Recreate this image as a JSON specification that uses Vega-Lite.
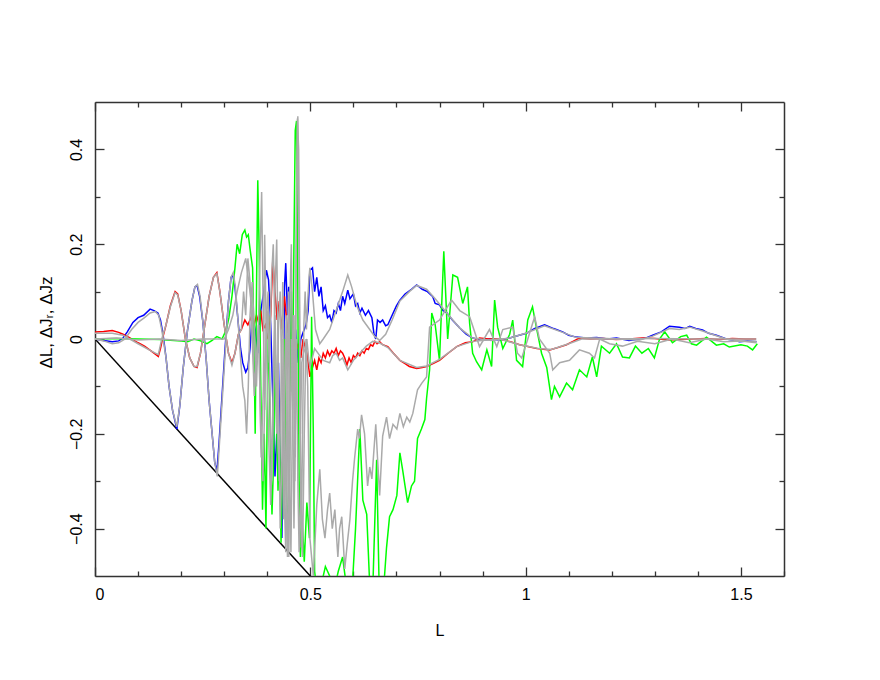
{
"$schema":"https://vega.github.io/schema/vega-lite/v6.json",
"width":689,"height":474,
"autosize":{"type":"none"},
"padding":{"left":95,"top":102,"right":96,"bottom":104},
"background":"white",
"config":{"view":{"stroke":null},"axis":{"labelFont":"Liberation Sans","titleFont":"Liberation Sans","labelFontSize":16,"titleFontSize":16,"labelColor":"black","titleColor":"black","titleFontWeight":"normal","tickColor":"#333","domainColor":"#333","domainWidth":1.5,"tickWidth":1.3,"grid":false}},
"datasets":{"d":[
{"s":"diag","x":0,"y":0},{"s":"diag","x":0.5,"y":-0.5},
{"s":"L","x":0,"y":0},{"s":"L","x":0.02,"y":-0.003},{"s":"L","x":0.04,"y":-0.006},{"s":"L","x":0.055,"y":-0.004},{"s":"L","x":0.065,"y":0.002},{"s":"L","x":0.075,"y":0.015},{"s":"L","x":0.088,"y":0.035},{"s":"L","x":0.1,"y":0.045},{"s":"L","x":0.113,"y":0.05},{"s":"L","x":0.128,"y":0.063},{"s":"L","x":0.137,"y":0.06},{"s":"L","x":0.146,"y":0.055},{"s":"L","x":0.152,"y":0.04},{"s":"L","x":0.158,"y":0.01},{"s":"L","x":0.165,"y":-0.04},{"s":"L","x":0.172,"y":-0.1},{"s":"L","x":0.18,"y":-0.15},{"s":"L","x":0.19,"y":-0.19},{"s":"L","x":0.197,"y":-0.14},{"s":"L","x":0.205,"y":-0.06},{"s":"L","x":0.215,"y":0.02},{"s":"L","x":0.225,"y":0.08},{"s":"L","x":0.232,"y":0.11},{"s":"L","x":0.237,"y":0.113},{"s":"L","x":0.243,"y":0.09},{"s":"L","x":0.25,"y":0.04},{"s":"L","x":0.258,"y":-0.04},{"s":"L","x":0.265,"y":-0.13},{"s":"L","x":0.272,"y":-0.2},{"s":"L","x":0.278,"y":-0.26},{"s":"L","x":0.283,"y":-0.28},{"s":"L","x":0.288,"y":-0.22},{"s":"L","x":0.295,"y":-0.12},{"s":"L","x":0.302,"y":-0.02},{"s":"L","x":0.31,"y":0.08},{"s":"L","x":0.316,"y":0.13},{"s":"L","x":0.32,"y":0.135},{"s":"L","x":0.325,"y":0.11},{"s":"L","x":0.332,"y":0.04},{"s":"L","x":0.338,"y":-0.02},{"s":"L","x":0.343,"y":-0.05},{"s":"L","x":0.35,"y":-0.07},{"s":"L","x":0.355,"y":-0.06},{"s":"L","x":0.36,"y":-0.02},{"s":"L","x":0.365,"y":0.05},{"s":"L","x":0.372,"y":0.02},{"s":"L","x":0.378,"y":-0.03},{"s":"L","x":0.385,"y":0.06},{"s":"L","x":0.392,"y":0.1},{"s":"L","x":0.398,"y":0.145},{"s":"L","x":0.403,"y":0.125},{"s":"L","x":0.408,"y":0.03},{"s":"L","x":0.413,"y":-0.13},{"s":"L","x":0.418,"y":-0.29},{"s":"L","x":0.422,"y":-0.2},{"s":"L","x":0.426,"y":-0.05},{"s":"L","x":0.43,"y":-0.25},{"s":"L","x":0.434,"y":-0.42},{"s":"L","x":0.437,"y":-0.2},{"s":"L","x":0.44,"y":0.11},{"s":"L","x":0.443,"y":0.16},{"s":"L","x":0.447,"y":0.05},{"s":"L","x":0.45,"y":0.11},{"s":"L","x":0.454,"y":-0.02},{"s":"L","x":0.458,"y":0.03},{"s":"L","x":0.462,"y":-0.1},{"s":"L","x":0.466,"y":0.02},{"s":"L","x":0.472,"y":-0.05},{"s":"L","x":0.478,"y":0.0},{"s":"L","x":0.483,"y":0.013},{"s":"L","x":0.49,"y":0.03},{"s":"L","x":0.495,"y":0.06},{"s":"L","x":0.499,"y":0.145},{"s":"L","x":0.505,"y":0.15},{"s":"L","x":0.51,"y":0.1},{"s":"L","x":0.515,"y":0.13},{"s":"L","x":0.52,"y":0.09},{"s":"L","x":0.525,"y":0.11},{"s":"L","x":0.53,"y":0.06},{"s":"L","x":0.535,"y":0.07},{"s":"L","x":0.54,"y":0.045},{"s":"L","x":0.545,"y":0.05},{"s":"L","x":0.55,"y":0.035},{"s":"L","x":0.555,"y":0.06},{"s":"L","x":0.56,"y":0.055},{"s":"L","x":0.565,"y":0.075},{"s":"L","x":0.57,"y":0.06},{"s":"L","x":0.575,"y":0.09},{"s":"L","x":0.58,"y":0.075},{"s":"L","x":0.587,"y":0.103},{"s":"L","x":0.592,"y":0.085},{"s":"L","x":0.6,"y":0.095},{"s":"L","x":0.605,"y":0.07},{"s":"L","x":0.61,"y":0.075},{"s":"L","x":0.615,"y":0.055},{"s":"L","x":0.62,"y":0.065},{"s":"L","x":0.628,"y":0.05},{"s":"L","x":0.635,"y":0.06},{"s":"L","x":0.643,"y":0.045},{"s":"L","x":0.648,"y":0.01},{"s":"L","x":0.652,"y":0.0},{"s":"L","x":0.656,"y":0.04},{"s":"L","x":0.662,"y":0.035},{"s":"L","x":0.668,"y":0.04},{"s":"L","x":0.675,"y":0.028},{"s":"L","x":0.68,"y":0.03},{"s":"L","x":0.69,"y":0.05},{"s":"L","x":0.7,"y":0.07},{"s":"L","x":0.708,"y":0.082},{"s":"L","x":0.72,"y":0.095},{"s":"L","x":0.735,"y":0.105},{"s":"L","x":0.747,"y":0.114},{"s":"L","x":0.76,"y":0.105},{"s":"L","x":0.772,"y":0.1},{"s":"L","x":0.784,"y":0.09},{"s":"L","x":0.79,"y":0.075},{"s":"L","x":0.8,"y":0.072},{"s":"L","x":0.808,"y":0.06},{"s":"L","x":0.817,"y":0.055},{"s":"L","x":0.83,"y":0.04},{"s":"L","x":0.847,"y":0.023},{"s":"L","x":0.862,"y":0.01},{"s":"L","x":0.877,"y":0.002},{"s":"L","x":0.9,"y":-0.003},{"s":"L","x":0.916,"y":0.0},{"s":"L","x":0.94,"y":-0.002},{"s":"L","x":0.963,"y":0.002},{"s":"L","x":0.985,"y":0.008},{"s":"L","x":1.002,"y":0.012},{"s":"L","x":1.02,"y":0.022},{"s":"L","x":1.044,"y":0.03},{"s":"L","x":1.065,"y":0.022},{"s":"L","x":1.086,"y":0.015},{"s":"L","x":1.1,"y":0.008},{"s":"L","x":1.118,"y":0.004},{"s":"L","x":1.14,"y":0.002},{"s":"L","x":1.165,"y":0.003},{"s":"L","x":1.19,"y":0.0},{"s":"L","x":1.211,"y":0.002},{"s":"L","x":1.24,"y":-0.003},{"s":"L","x":1.265,"y":0.0},{"s":"L","x":1.28,"y":0.002},{"s":"L","x":1.295,"y":0.008},{"s":"L","x":1.315,"y":0.015},{"s":"L","x":1.334,"y":0.027},{"s":"L","x":1.357,"y":0.025},{"s":"L","x":1.37,"y":0.022},{"s":"L","x":1.381,"y":0.027},{"s":"L","x":1.395,"y":0.022},{"s":"L","x":1.411,"y":0.019},{"s":"L","x":1.425,"y":0.012},{"s":"L","x":1.443,"y":0.008},{"s":"L","x":1.466,"y":0.0},{"s":"L","x":1.48,"y":-0.002},{"s":"L","x":1.497,"y":-0.006},{"s":"L","x":1.515,"y":-0.004},{"s":"L","x":1.536,"y":-0.006},
{"s":"Jr","x":0,"y":0.015},{"s":"Jr","x":0.02,"y":0.016},{"s":"Jr","x":0.04,"y":0.018},{"s":"Jr","x":0.055,"y":0.014},{"s":"Jr","x":0.065,"y":0.01},{"s":"Jr","x":0.08,"y":0.003},{"s":"Jr","x":0.1,"y":-0.008},{"s":"Jr","x":0.115,"y":-0.015},{"s":"Jr","x":0.13,"y":-0.025},{"s":"Jr","x":0.14,"y":-0.032},{"s":"Jr","x":0.147,"y":-0.037},{"s":"Jr","x":0.152,"y":-0.02},{"s":"Jr","x":0.158,"y":0.005},{"s":"Jr","x":0.165,"y":0.03},{"s":"Jr","x":0.175,"y":0.07},{"s":"Jr","x":0.186,"y":0.1},{"s":"Jr","x":0.192,"y":0.095},{"s":"Jr","x":0.2,"y":0.06},{"s":"Jr","x":0.21,"y":0.0},{"s":"Jr","x":0.22,"y":-0.04},{"s":"Jr","x":0.23,"y":-0.058},{"s":"Jr","x":0.237,"y":-0.06},{"s":"Jr","x":0.245,"y":-0.03},{"s":"Jr","x":0.255,"y":0.03},{"s":"Jr","x":0.265,"y":0.09},{"s":"Jr","x":0.275,"y":0.13},{"s":"Jr","x":0.283,"y":0.14},{"s":"Jr","x":0.29,"y":0.1},{"s":"Jr","x":0.3,"y":0.03},{"s":"Jr","x":0.31,"y":-0.03},{"s":"Jr","x":0.318,"y":-0.05},{"s":"Jr","x":0.325,"y":-0.03},{"s":"Jr","x":0.333,"y":0.01},{"s":"Jr","x":0.34,"y":0.02},{"s":"Jr","x":0.348,"y":0.04},{"s":"Jr","x":0.355,"y":0.03},{"s":"Jr","x":0.362,"y":0.045},{"s":"Jr","x":0.368,"y":0.025},{"s":"Jr","x":0.375,"y":0.05},{"s":"Jr","x":0.38,"y":0.035},{"s":"Jr","x":0.385,"y":0.06},{"s":"Jr","x":0.39,"y":0.02},{"s":"Jr","x":0.396,"y":0.03},{"s":"Jr","x":0.402,"y":0.0},{"s":"Jr","x":0.408,"y":0.05},{"s":"Jr","x":0.413,"y":0.17},{"s":"Jr","x":0.418,"y":0.1},{"s":"Jr","x":0.423,"y":0.04},{"s":"Jr","x":0.428,"y":0.08},{"s":"Jr","x":0.433,"y":0.02},{"s":"Jr","x":0.44,"y":0.09},{"s":"Jr","x":0.446,"y":0.03},{"s":"Jr","x":0.452,"y":-0.02},{"s":"Jr","x":0.458,"y":0.01},{"s":"Jr","x":0.465,"y":-0.03},{"s":"Jr","x":0.472,"y":-0.01},{"s":"Jr","x":0.478,"y":-0.04},{"s":"Jr","x":0.483,"y":0.0},{"s":"Jr","x":0.492,"y":-0.03},{"s":"Jr","x":0.499,"y":-0.08},{"s":"Jr","x":0.505,"y":-0.06},{"s":"Jr","x":0.51,"y":-0.045},{"s":"Jr","x":0.515,"y":-0.065},{"s":"Jr","x":0.52,"y":-0.04},{"s":"Jr","x":0.525,"y":-0.05},{"s":"Jr","x":0.53,"y":-0.03},{"s":"Jr","x":0.535,"y":-0.04},{"s":"Jr","x":0.54,"y":-0.025},{"s":"Jr","x":0.545,"y":-0.035},{"s":"Jr","x":0.55,"y":-0.025},{"s":"Jr","x":0.555,"y":-0.03},{"s":"Jr","x":0.56,"y":-0.02},{"s":"Jr","x":0.565,"y":-0.035},{"s":"Jr","x":0.57,"y":-0.025},{"s":"Jr","x":0.575,"y":-0.03},{"s":"Jr","x":0.58,"y":-0.04},{"s":"Jr","x":0.585,"y":-0.055},{"s":"Jr","x":0.59,"y":-0.04},{"s":"Jr","x":0.595,"y":-0.05},{"s":"Jr","x":0.6,"y":-0.035},{"s":"Jr","x":0.605,"y":-0.04},{"s":"Jr","x":0.61,"y":-0.03},{"s":"Jr","x":0.615,"y":-0.035},{"s":"Jr","x":0.62,"y":-0.025},{"s":"Jr","x":0.625,"y":-0.03},{"s":"Jr","x":0.63,"y":-0.02},{"s":"Jr","x":0.635,"y":-0.022},{"s":"Jr","x":0.64,"y":-0.012},{"s":"Jr","x":0.645,"y":-0.015},{"s":"Jr","x":0.65,"y":-0.005},{"s":"Jr","x":0.655,"y":-0.01},{"s":"Jr","x":0.661,"y":-0.006},{"s":"Jr","x":0.668,"y":-0.012},{"s":"Jr","x":0.68,"y":-0.016},{"s":"Jr","x":0.693,"y":-0.03},{"s":"Jr","x":0.708,"y":-0.045},{"s":"Jr","x":0.72,"y":-0.052},{"s":"Jr","x":0.73,"y":-0.058},{"s":"Jr","x":0.747,"y":-0.062},{"s":"Jr","x":0.76,"y":-0.06},{"s":"Jr","x":0.77,"y":-0.058},{"s":"Jr","x":0.785,"y":-0.052},{"s":"Jr","x":0.8,"y":-0.045},{"s":"Jr","x":0.82,"y":-0.03},{"s":"Jr","x":0.84,"y":-0.016},{"s":"Jr","x":0.86,"y":-0.008},{"s":"Jr","x":0.877,"y":-0.006},{"s":"Jr","x":0.893,"y":0.002},{"s":"Jr","x":0.915,"y":0.0},{"s":"Jr","x":0.94,"y":0.0},{"s":"Jr","x":0.965,"y":-0.006},{"s":"Jr","x":0.986,"y":-0.012},{"s":"Jr","x":1.005,"y":-0.016},{"s":"Jr","x":1.026,"y":-0.02},{"s":"Jr","x":1.056,"y":-0.023},{"s":"Jr","x":1.075,"y":-0.018},{"s":"Jr","x":1.095,"y":-0.012},{"s":"Jr","x":1.11,"y":-0.005},{"s":"Jr","x":1.125,"y":0.002},{"s":"Jr","x":1.15,"y":0.0},{"s":"Jr","x":1.18,"y":0.001},{"s":"Jr","x":1.21,"y":-0.001},{"s":"Jr","x":1.24,"y":0.0},{"s":"Jr","x":1.27,"y":0.002},{"s":"Jr","x":1.3,"y":0.001},{"s":"Jr","x":1.33,"y":-0.002},{"s":"Jr","x":1.36,"y":-0.001},{"s":"Jr","x":1.39,"y":0.0},{"s":"Jr","x":1.42,"y":0.001},{"s":"Jr","x":1.45,"y":-0.001},{"s":"Jr","x":1.48,"y":0.001},{"s":"Jr","x":1.51,"y":0.0},{"s":"Jr","x":1.535,"y":0.0},
{"s":"Jz","x":0,"y":0},{"s":"Jz","x":0.05,"y":0.001},{"s":"Jz","x":0.1,"y":0.0},{"s":"Jz","x":0.15,"y":-0.001},{"s":"Jz","x":0.2,"y":-0.004},{"s":"Jz","x":0.215,"y":-0.006},{"s":"Jz","x":0.23,"y":0.0},{"s":"Jz","x":0.245,"y":-0.004},{"s":"Jz","x":0.26,"y":-0.01},{"s":"Jz","x":0.272,"y":-0.003},{"s":"Jz","x":0.283,"y":0.005},{"s":"Jz","x":0.295,"y":0.0},{"s":"Jz","x":0.305,"y":0.02},{"s":"Jz","x":0.311,"y":0.045},{"s":"Jz","x":0.318,"y":0.09},{"s":"Jz","x":0.325,"y":0.15},{"s":"Jz","x":0.33,"y":0.2},{"s":"Jz","x":0.336,"y":0.18},{"s":"Jz","x":0.342,"y":0.22},{"s":"Jz","x":0.348,"y":0.23},{"s":"Jz","x":0.352,"y":0.215},{"s":"Jz","x":0.356,"y":0.22},{"s":"Jz","x":0.36,"y":0.19},{"s":"Jz","x":0.366,"y":0.15},{"s":"Jz","x":0.369,"y":0.0},{"s":"Jz","x":0.372,"y":-0.2},{"s":"Jz","x":0.375,"y":0.1},{"s":"Jz","x":0.378,"y":0.335},{"s":"Jz","x":0.381,"y":0.2},{"s":"Jz","x":0.385,"y":-0.1},{"s":"Jz","x":0.389,"y":-0.36},{"s":"Jz","x":0.393,"y":-0.2},{"s":"Jz","x":0.397,"y":-0.4},{"s":"Jz","x":0.4,"y":-0.15},{"s":"Jz","x":0.403,"y":0.05},{"s":"Jz","x":0.407,"y":-0.2},{"s":"Jz","x":0.411,"y":-0.37},{"s":"Jz","x":0.415,"y":-0.25},{"s":"Jz","x":0.418,"y":0.0},{"s":"Jz","x":0.421,"y":-0.15},{"s":"Jz","x":0.425,"y":-0.32},{"s":"Jz","x":0.429,"y":-0.2},{"s":"Jz","x":0.432,"y":-0.43},{"s":"Jz","x":0.436,"y":-0.25},{"s":"Jz","x":0.44,"y":0.0},{"s":"Jz","x":0.444,"y":-0.3},{"s":"Jz","x":0.448,"y":-0.45},{"s":"Jz","x":0.452,"y":-0.2},{"s":"Jz","x":0.456,"y":0.1},{"s":"Jz","x":0.459,"y":-0.1},{"s":"Jz","x":0.462,"y":0.2},{"s":"Jz","x":0.465,"y":0.44},{"s":"Jz","x":0.468,"y":0.46},{"s":"Jz","x":0.471,"y":0.1},{"s":"Jz","x":0.474,"y":-0.3},{"s":"Jz","x":0.477,"y":-0.46},{"s":"Jz","x":0.481,"y":-0.38},{"s":"Jz","x":0.486,"y":-0.47},{"s":"Jz","x":0.492,"y":-0.345},{"s":"Jz","x":0.498,"y":-0.42},{"s":"Jz","x":0.503,"y":0.047},{"s":"Jz","x":0.507,"y":-0.2},{"s":"Jz","x":0.51,"y":-0.49},{"s":"Jz","x":0.515,"y":-0.53},{"s":"Jz","x":0.525,"y":-0.52},{"s":"Jz","x":0.535,"y":-0.48},{"s":"Jz","x":0.545,"y":-0.5},{"s":"Jz","x":0.555,"y":-0.53},{"s":"Jz","x":0.565,"y":-0.49},{"s":"Jz","x":0.575,"y":-0.46},{"s":"Jz","x":0.585,"y":-0.53},{"s":"Jz","x":0.597,"y":-0.53},{"s":"Jz","x":0.605,"y":-0.4},{"s":"Jz","x":0.615,"y":-0.19},{"s":"Jz","x":0.622,"y":-0.34},{"s":"Jz","x":0.631,"y":-0.37},{"s":"Jz","x":0.638,"y":-0.52},{"s":"Jz","x":0.645,"y":-0.53},{"s":"Jz","x":0.654,"y":-0.255},{"s":"Jz","x":0.66,"y":-0.53},{"s":"Jz","x":0.67,"y":-0.53},{"s":"Jz","x":0.677,"y":-0.44},{"s":"Jz","x":0.684,"y":-0.375},{"s":"Jz","x":0.692,"y":-0.36},{"s":"Jz","x":0.701,"y":-0.33},{"s":"Jz","x":0.708,"y":-0.24},{"s":"Jz","x":0.715,"y":-0.28},{"s":"Jz","x":0.72,"y":-0.31},{"s":"Jz","x":0.726,"y":-0.345},{"s":"Jz","x":0.735,"y":-0.31},{"s":"Jz","x":0.742,"y":-0.3},{"s":"Jz","x":0.749,"y":-0.21},{"s":"Jz","x":0.758,"y":-0.19},{"s":"Jz","x":0.766,"y":-0.17},{"s":"Jz","x":0.77,"y":-0.125},{"s":"Jz","x":0.777,"y":-0.065},{"s":"Jz","x":0.782,"y":0.055},{"s":"Jz","x":0.79,"y":0.03},{"s":"Jz","x":0.8,"y":-0.045},{"s":"Jz","x":0.81,"y":0.185},{"s":"Jz","x":0.819,"y":0.0},{"s":"Jz","x":0.831,"y":0.135},{"s":"Jz","x":0.842,"y":0.13},{"s":"Jz","x":0.854,"y":0.075},{"s":"Jz","x":0.865,"y":0.11},{"s":"Jz","x":0.87,"y":0.033},{"s":"Jz","x":0.877,"y":-0.03},{"s":"Jz","x":0.886,"y":-0.048},{"s":"Jz","x":0.898,"y":-0.065},{"s":"Jz","x":0.91,"y":-0.023},{"s":"Jz","x":0.921,"y":-0.058},{"s":"Jz","x":0.928,"y":0.082},{"s":"Jz","x":0.935,"y":0.025},{"s":"Jz","x":0.947,"y":-0.02},{"s":"Jz","x":0.963,"y":0.01},{"s":"Jz","x":0.97,"y":0.04},{"s":"Jz","x":0.979,"y":-0.045},{"s":"Jz","x":0.993,"y":-0.058},{"s":"Jz","x":1.005,"y":0.04},{"s":"Jz","x":1.016,"y":0.068},{"s":"Jz","x":1.026,"y":0.02},{"s":"Jz","x":1.037,"y":-0.03},{"s":"Jz","x":1.049,"y":-0.06},{"s":"Jz","x":1.06,"y":-0.128},{"s":"Jz","x":1.067,"y":-0.1},{"s":"Jz","x":1.079,"y":-0.122},{"s":"Jz","x":1.095,"y":-0.093},{"s":"Jz","x":1.109,"y":-0.107},{"s":"Jz","x":1.125,"y":-0.065},{"s":"Jz","x":1.142,"y":-0.08},{"s":"Jz","x":1.155,"y":-0.038},{"s":"Jz","x":1.165,"y":-0.08},{"s":"Jz","x":1.176,"y":-0.015},{"s":"Jz","x":1.195,"y":-0.03},{"s":"Jz","x":1.211,"y":-0.01},{"s":"Jz","x":1.225,"y":-0.038},{"s":"Jz","x":1.241,"y":-0.04},{"s":"Jz","x":1.255,"y":-0.015},{"s":"Jz","x":1.27,"y":-0.03},{"s":"Jz","x":1.285,"y":-0.02},{"s":"Jz","x":1.299,"y":-0.04},{"s":"Jz","x":1.311,"y":0.0},{"s":"Jz","x":1.323,"y":0.015},{"s":"Jz","x":1.341,"y":-0.008},{"s":"Jz","x":1.36,"y":0.005},{"s":"Jz","x":1.374,"y":0.008},{"s":"Jz","x":1.385,"y":-0.01},{"s":"Jz","x":1.397,"y":-0.013},{"s":"Jz","x":1.42,"y":0.004},{"s":"Jz","x":1.443,"y":-0.013},{"s":"Jz","x":1.46,"y":-0.01},{"s":"Jz","x":1.473,"y":-0.017},{"s":"Jz","x":1.5,"y":-0.012},{"s":"Jz","x":1.515,"y":-0.015},{"s":"Jz","x":1.527,"y":-0.023},{"s":"Jz","x":1.538,"y":-0.01},
{"s":"gL","x":0,"y":0},{"s":"gL","x":0.02,"y":-0.004},{"s":"gL","x":0.04,"y":-0.01},{"s":"gL","x":0.055,"y":-0.008},{"s":"gL","x":0.07,"y":0.0},{"s":"gL","x":0.085,"y":0.02},{"s":"gL","x":0.1,"y":0.035},{"s":"gL","x":0.115,"y":0.045},{"s":"gL","x":0.128,"y":0.055},{"s":"gL","x":0.14,"y":0.058},{"s":"gL","x":0.148,"y":0.05},{"s":"gL","x":0.155,"y":0.02},{"s":"gL","x":0.165,"y":-0.04},{"s":"gL","x":0.172,"y":-0.1},{"s":"gL","x":0.18,"y":-0.15},{"s":"gL","x":0.19,"y":-0.185},{"s":"gL","x":0.197,"y":-0.14},{"s":"gL","x":0.205,"y":-0.06},{"s":"gL","x":0.215,"y":0.02},{"s":"gL","x":0.225,"y":0.08},{"s":"gL","x":0.232,"y":0.11},{"s":"gL","x":0.238,"y":0.115},{"s":"gL","x":0.244,"y":0.09},{"s":"gL","x":0.25,"y":0.04},{"s":"gL","x":0.258,"y":-0.04},{"s":"gL","x":0.265,"y":-0.13},{"s":"gL","x":0.272,"y":-0.2},{"s":"gL","x":0.278,"y":-0.26},{"s":"gL","x":0.284,"y":-0.29},{"s":"gL","x":0.289,"y":-0.22},{"s":"gL","x":0.296,"y":-0.12},{"s":"gL","x":0.303,"y":-0.02},{"s":"gL","x":0.31,"y":0.08},{"s":"gL","x":0.316,"y":0.13},{"s":"gL","x":0.321,"y":0.14},{"s":"gL","x":0.326,"y":0.11},{"s":"gL","x":0.332,"y":0.04},{"s":"gL","x":0.338,"y":-0.04},{"s":"gL","x":0.343,"y":-0.1},{"s":"gL","x":0.348,"y":-0.13},{"s":"gL","x":0.352,"y":-0.2},{"s":"gL","x":0.356,"y":-0.1},{"s":"gL","x":0.36,"y":0.05},{"s":"gL","x":0.365,"y":0.12},{"s":"gL","x":0.37,"y":0.02},{"s":"gL","x":0.375,"y":-0.1},{"s":"gL","x":0.38,"y":0.05},{"s":"gL","x":0.384,"y":0.2},{"s":"gL","x":0.387,"y":0.31},{"s":"gL","x":0.39,"y":0.1},{"s":"gL","x":0.394,"y":-0.15},{"s":"gL","x":0.398,"y":0.05},{"s":"gL","x":0.402,"y":0.1},{"s":"gL","x":0.406,"y":-0.1},{"s":"gL","x":0.41,"y":-0.3},{"s":"gL","x":0.414,"y":-0.1},{"s":"gL","x":0.418,"y":0.1},{"s":"gL","x":0.422,"y":0.21},{"s":"gL","x":0.426,"y":-0.1},{"s":"gL","x":0.43,"y":-0.4},{"s":"gL","x":0.434,"y":-0.25},{"s":"gL","x":0.437,"y":0.0},{"s":"gL","x":0.44,"y":-0.35},{"s":"gL","x":0.443,"y":-0.45},{"s":"gL","x":0.446,"y":-0.1},{"s":"gL","x":0.449,"y":0.1},{"s":"gL","x":0.452,"y":-0.3},{"s":"gL","x":0.455,"y":-0.45},{"s":"gL","x":0.458,"y":-0.2},{"s":"gL","x":0.461,"y":0.05},{"s":"gL","x":0.464,"y":-0.3},{"s":"gL","x":0.467,"y":0.2},{"s":"gL","x":0.47,"y":0.465},{"s":"gL","x":0.473,"y":0.4},{"s":"gL","x":0.476,"y":-0.1},{"s":"gL","x":0.479,"y":-0.44},{"s":"gL","x":0.482,"y":-0.2},{"s":"gL","x":0.485,"y":0.03},{"s":"gL","x":0.488,"y":0.1},{"s":"gL","x":0.491,"y":0.02},{"s":"gL","x":0.494,"y":0.08},{"s":"gL","x":0.497,"y":0.13},{"s":"gL","x":0.499,"y":0.15},{"s":"gL","x":0.505,"y":0.1},{"s":"gL","x":0.512,"y":0.02},{"s":"gL","x":0.522,"y":-0.01},{"s":"gL","x":0.53,"y":0.0},{"s":"gL","x":0.545,"y":0.02},{"s":"gL","x":0.56,"y":0.06},{"s":"gL","x":0.575,"y":0.1},{"s":"gL","x":0.587,"y":0.135},{"s":"gL","x":0.596,"y":0.11},{"s":"gL","x":0.608,"y":0.07},{"s":"gL","x":0.622,"y":0.04},{"s":"gL","x":0.638,"y":0.02},{"s":"gL","x":0.65,"y":0.005},{"s":"gL","x":0.661,"y":-0.003},{"s":"gL","x":0.675,"y":0.01},{"s":"gL","x":0.69,"y":0.04},{"s":"gL","x":0.708,"y":0.08},{"s":"gL","x":0.73,"y":0.1},{"s":"gL","x":0.747,"y":0.113},{"s":"gL","x":0.77,"y":0.105},{"s":"gL","x":0.79,"y":0.085},{"s":"gL","x":0.817,"y":0.055},{"s":"gL","x":0.847,"y":0.023},{"s":"gL","x":0.877,"y":0.002},{"s":"gL","x":0.92,"y":-0.003},{"s":"gL","x":0.963,"y":0.002},{"s":"gL","x":1.0,"y":0.012},{"s":"gL","x":1.044,"y":0.028},{"s":"gL","x":1.086,"y":0.014},{"s":"gL","x":1.118,"y":0.003},{"s":"gL","x":1.165,"y":0.002},{"s":"gL","x":1.211,"y":0.0},{"s":"gL","x":1.265,"y":-0.002},{"s":"gL","x":1.295,"y":0.006},{"s":"gL","x":1.334,"y":0.022},{"s":"gL","x":1.357,"y":0.02},{"s":"gL","x":1.381,"y":0.025},{"s":"gL","x":1.411,"y":0.017},{"s":"gL","x":1.443,"y":0.007},{"s":"gL","x":1.466,"y":0.0},{"s":"gL","x":1.497,"y":-0.004},{"s":"gL","x":1.536,"y":-0.005},
{"s":"gJr","x":0,"y":0.012},{"s":"gJr","x":0.04,"y":0.012},{"s":"gJr","x":0.065,"y":0.008},{"s":"gJr","x":0.1,"y":-0.01},{"s":"gJr","x":0.13,"y":-0.025},{"s":"gJr","x":0.147,"y":-0.033},{"s":"gJr","x":0.155,"y":0.0},{"s":"gJr","x":0.165,"y":0.03},{"s":"gJr","x":0.175,"y":0.068},{"s":"gJr","x":0.186,"y":0.098},{"s":"gJr","x":0.192,"y":0.093},{"s":"gJr","x":0.2,"y":0.06},{"s":"gJr","x":0.21,"y":0.0},{"s":"gJr","x":0.22,"y":-0.04},{"s":"gJr","x":0.23,"y":-0.058},{"s":"gJr","x":0.237,"y":-0.058},{"s":"gJr","x":0.245,"y":-0.03},{"s":"gJr","x":0.255,"y":0.03},{"s":"gJr","x":0.265,"y":0.09},{"s":"gJr","x":0.275,"y":0.13},{"s":"gJr","x":0.283,"y":0.138},{"s":"gJr","x":0.29,"y":0.1},{"s":"gJr","x":0.3,"y":0.03},{"s":"gJr","x":0.31,"y":-0.03},{"s":"gJr","x":0.318,"y":-0.055},{"s":"gJr","x":0.325,"y":-0.03},{"s":"gJr","x":0.333,"y":0.01},{"s":"gJr","x":0.34,"y":0.02},{"s":"gJr","x":0.345,"y":0.1},{"s":"gJr","x":0.35,"y":0.05},{"s":"gJr","x":0.355,"y":0.17},{"s":"gJr","x":0.36,"y":0.12},{"s":"gJr","x":0.365,"y":0.0},{"s":"gJr","x":0.37,"y":-0.12},{"s":"gJr","x":0.375,"y":-0.05},{"s":"gJr","x":0.38,"y":0.03},{"s":"gJr","x":0.385,"y":-0.2},{"s":"gJr","x":0.39,"y":-0.3},{"s":"gJr","x":0.395,"y":-0.1},{"s":"gJr","x":0.4,"y":0.06},{"s":"gJr","x":0.405,"y":-0.05},{"s":"gJr","x":0.41,"y":0.13},{"s":"gJr","x":0.414,"y":0.2},{"s":"gJr","x":0.418,"y":0.0},{"s":"gJr","x":0.422,"y":-0.2},{"s":"gJr","x":0.426,"y":0.02},{"s":"gJr","x":0.43,"y":0.1},{"s":"gJr","x":0.434,"y":-0.1},{"s":"gJr","x":0.438,"y":-0.38},{"s":"gJr","x":0.441,"y":-0.1},{"s":"gJr","x":0.444,"y":0.05},{"s":"gJr","x":0.447,"y":-0.2},{"s":"gJr","x":0.45,"y":-0.46},{"s":"gJr","x":0.453,"y":-0.25},{"s":"gJr","x":0.456,"y":0.0},{"s":"gJr","x":0.459,"y":-0.15},{"s":"gJr","x":0.462,"y":0.05},{"s":"gJr","x":0.465,"y":-0.25},{"s":"gJr","x":0.468,"y":0.3},{"s":"gJr","x":0.471,"y":0.47},{"s":"gJr","x":0.474,"y":0.2},{"s":"gJr","x":0.477,"y":-0.2},{"s":"gJr","x":0.48,"y":-0.05},{"s":"gJr","x":0.484,"y":-0.03},{"s":"gJr","x":0.488,"y":-0.02},{"s":"gJr","x":0.492,"y":0.0},{"s":"gJr","x":0.496,"y":-0.04},{"s":"gJr","x":0.499,"y":-0.06},{"s":"gJr","x":0.51,"y":-0.02},{"s":"gJr","x":0.522,"y":-0.035},{"s":"gJr","x":0.53,"y":-0.045},{"s":"gJr","x":0.545,"y":-0.05},{"s":"gJr","x":0.552,"y":-0.035},{"s":"gJr","x":0.56,"y":-0.03},{"s":"gJr","x":0.568,"y":-0.045},{"s":"gJr","x":0.575,"y":-0.04},{"s":"gJr","x":0.587,"y":-0.065},{"s":"gJr","x":0.6,"y":-0.045},{"s":"gJr","x":0.615,"y":-0.03},{"s":"gJr","x":0.63,"y":-0.015},{"s":"gJr","x":0.645,"y":-0.005},{"s":"gJr","x":0.66,"y":-0.008},{"s":"gJr","x":0.68,"y":-0.018},{"s":"gJr","x":0.708,"y":-0.045},{"s":"gJr","x":0.747,"y":-0.06},{"s":"gJr","x":0.77,"y":-0.057},{"s":"gJr","x":0.8,"y":-0.043},{"s":"gJr","x":0.84,"y":-0.016},{"s":"gJr","x":0.877,"y":-0.005},{"s":"gJr","x":0.94,"y":0.0},{"s":"gJr","x":0.986,"y":-0.012},{"s":"gJr","x":1.03,"y":-0.02},{"s":"gJr","x":1.06,"y":-0.022},{"s":"gJr","x":1.1,"y":-0.01},{"s":"gJr","x":1.13,"y":0.0},{"s":"gJr","x":1.2,"y":0.0},{"s":"gJr","x":1.3,"y":0.001},{"s":"gJr","x":1.4,"y":0.0},{"s":"gJr","x":1.536,"y":0.0},
{"s":"gJz","x":0,"y":0},{"s":"gJz","x":0.05,"y":0.002},{"s":"gJz","x":0.1,"y":-0.002},{"s":"gJz","x":0.15,"y":0.0},{"s":"gJz","x":0.2,"y":-0.003},{"s":"gJz","x":0.25,"y":0.0},{"s":"gJz","x":0.3,"y":0.0},{"s":"gJz","x":0.31,"y":0.02},{"s":"gJz","x":0.32,"y":0.05},{"s":"gJz","x":0.33,"y":0.1},{"s":"gJz","x":0.34,"y":0.14},{"s":"gJz","x":0.35,"y":0.17},{"s":"gJz","x":0.36,"y":0.1},{"s":"gJz","x":0.365,"y":0.06},{"s":"gJz","x":0.37,"y":-0.1},{"s":"gJz","x":0.375,"y":-0.05},{"s":"gJz","x":0.38,"y":0.03},{"s":"gJz","x":0.386,"y":-0.25},{"s":"gJz","x":0.391,"y":-0.1},{"s":"gJz","x":0.394,"y":0.22},{"s":"gJz","x":0.398,"y":0.0},{"s":"gJz","x":0.403,"y":-0.2},{"s":"gJz","x":0.408,"y":-0.35},{"s":"gJz","x":0.413,"y":-0.2},{"s":"gJz","x":0.418,"y":0.05},{"s":"gJz","x":0.423,"y":-0.15},{"s":"gJz","x":0.428,"y":-0.3},{"s":"gJz","x":0.432,"y":-0.1},{"s":"gJz","x":0.436,"y":0.12},{"s":"gJz","x":0.44,"y":-0.15},{"s":"gJz","x":0.444,"y":-0.35},{"s":"gJz","x":0.447,"y":-0.46},{"s":"gJz","x":0.45,"y":-0.2},{"s":"gJz","x":0.453,"y":0.1},{"s":"gJz","x":0.456,"y":0.2},{"s":"gJz","x":0.459,"y":-0.1},{"s":"gJz","x":0.462,"y":-0.4},{"s":"gJz","x":0.465,"y":-0.2},{"s":"gJz","x":0.468,"y":0.0},{"s":"gJz","x":0.471,"y":-0.3},{"s":"gJz","x":0.474,"y":-0.45},{"s":"gJz","x":0.478,"y":-0.3},{"s":"gJz","x":0.482,"y":-0.46},{"s":"gJz","x":0.486,"y":-0.2},{"s":"gJz","x":0.49,"y":0.0},{"s":"gJz","x":0.494,"y":-0.1},{"s":"gJz","x":0.497,"y":-0.3},{"s":"gJz","x":0.499,"y":-0.42},{"s":"gJz","x":0.507,"y":-0.5},{"s":"gJz","x":0.515,"y":-0.35},{"s":"gJz","x":0.522,"y":-0.275},{"s":"gJz","x":0.528,"y":-0.38},{"s":"gJz","x":0.534,"y":-0.42},{"s":"gJz","x":0.54,"y":-0.36},{"s":"gJz","x":0.545,"y":-0.325},{"s":"gJz","x":0.551,"y":-0.4},{"s":"gJz","x":0.557,"y":-0.36},{"s":"gJz","x":0.564,"y":-0.46},{"s":"gJz","x":0.568,"y":-0.4},{"s":"gJz","x":0.573,"y":-0.375},{"s":"gJz","x":0.58,"y":-0.485},{"s":"gJz","x":0.586,"y":-0.43},{"s":"gJz","x":0.592,"y":-0.38},{"s":"gJz","x":0.598,"y":-0.3},{"s":"gJz","x":0.603,"y":-0.25},{"s":"gJz","x":0.61,"y":-0.19},{"s":"gJz","x":0.614,"y":-0.21},{"s":"gJz","x":0.619,"y":-0.16},{"s":"gJz","x":0.626,"y":-0.2},{"s":"gJz","x":0.633,"y":-0.31},{"s":"gJz","x":0.638,"y":-0.27},{"s":"gJz","x":0.643,"y":-0.295},{"s":"gJz","x":0.652,"y":-0.18},{"s":"gJz","x":0.656,"y":-0.25},{"s":"gJz","x":0.661,"y":-0.33},{"s":"gJz","x":0.668,"y":-0.205},{"s":"gJz","x":0.677,"y":-0.165},{"s":"gJz","x":0.684,"y":-0.21},{"s":"gJz","x":0.692,"y":-0.18},{"s":"gJz","x":0.701,"y":-0.19},{"s":"gJz","x":0.708,"y":-0.157},{"s":"gJz","x":0.716,"y":-0.185},{"s":"gJz","x":0.724,"y":-0.165},{"s":"gJz","x":0.731,"y":-0.175},{"s":"gJz","x":0.738,"y":-0.157},{"s":"gJz","x":0.749,"y":-0.107},{"s":"gJz","x":0.759,"y":-0.093},{"s":"gJz","x":0.77,"y":-0.08},{"s":"gJz","x":0.777,"y":0.025},{"s":"gJz","x":0.8,"y":0.04},{"s":"gJz","x":0.828,"y":0.082},{"s":"gJz","x":0.847,"y":0.06},{"s":"gJz","x":0.87,"y":0.047},{"s":"gJz","x":0.893,"y":-0.016},{"s":"gJz","x":0.916,"y":0.02},{"s":"gJz","x":0.933,"y":-0.016},{"s":"gJz","x":0.947,"y":0.02},{"s":"gJz","x":0.97,"y":0.025},{"s":"gJz","x":0.981,"y":-0.03},{"s":"gJz","x":0.991,"y":-0.04},{"s":"gJz","x":1.005,"y":0.0},{"s":"gJz","x":1.021,"y":0.047},{"s":"gJz","x":1.032,"y":0.0},{"s":"gJz","x":1.056,"y":-0.03},{"s":"gJz","x":1.063,"y":-0.065},{"s":"gJz","x":1.079,"y":-0.05},{"s":"gJz","x":1.102,"y":-0.045},{"s":"gJz","x":1.125,"y":-0.023},{"s":"gJz","x":1.148,"y":-0.03},{"s":"gJz","x":1.16,"y":-0.04},{"s":"gJz","x":1.172,"y":0.0},{"s":"gJz","x":1.195,"y":-0.01},{"s":"gJz","x":1.225,"y":-0.015},{"s":"gJz","x":1.26,"y":-0.005},{"s":"gJz","x":1.3,"y":-0.01},{"s":"gJz","x":1.34,"y":0.0},{"s":"gJz","x":1.38,"y":-0.008},{"s":"gJz","x":1.42,"y":0.0},{"s":"gJz","x":1.46,"y":-0.006},{"s":"gJz","x":1.5,"y":-0.004},{"s":"gJz","x":1.536,"y":-0.008}
]},
"layer":[
{"data":{"name":"d"},"transform":[{"filter":{"field":"s","equal":"diag"}}],
 "mark":{"type":"line","color":"black","strokeWidth":1.5,"clip":true},
 "encoding":{
  "x":{"field":"x","type":"quantitative","scale":{"domain":[0,1.6],"nice":false,"zero":false},
       "axis":{"orient":"bottom","values":[0,0.5,1,1.5],"format":"~g","tickSize":-9,"labelPadding":19,"title":"L","titlePadding":20}},
  "y":{"field":"y","type":"quantitative","scale":{"domain":[-0.5,0.5],"nice":false,"zero":false},
       "axis":{"orient":"left","values":[-0.4,-0.2,0,0.2,0.4],"format":"~g","tickSize":-9,"labelPadding":20,"labelAngle":-90,"labelAlign":"center","labelBaseline":"bottom","title":"ΔL, ΔJᵣ, ΔJz","titleFontSize":17,"titleY":220,"titlePadding":13}}}},
{"data":{"name":"d"},"transform":[{"filter":{"field":"s","oneOf":["L","Jr","Jz"]}}],
 "mark":{"type":"line","strokeWidth":1.5,"clip":true},
 "encoding":{
  "x":{"field":"x","type":"quantitative","scale":{"domain":[0,1.6],"nice":false,"zero":false},
       "axis":{"orient":"bottom","values":[0.1,0.2,0.3,0.4,0.6,0.7,0.8,0.9,1.1,1.2,1.3,1.4,1.6],"tickSize":-5,"labels":false,"domain":false,"title":null}},
  "y":{"field":"y","type":"quantitative","scale":{"domain":[-0.5,0.5],"nice":false,"zero":false},
       "axis":{"orient":"left","values":[-0.3,-0.1,0.1,0.3],"tickSize":-5,"labels":false,"domain":false,"title":null}},
  "color":{"field":"s","type":"nominal","scale":{"domain":["L","Jr","Jz"],"range":["#0000ff","#ff0000","#00ff00"]},"legend":null}}},
{"data":{"name":"d"},"transform":[{"filter":{"field":"s","equal":"gL"}}],
 "mark":{"type":"line","strokeWidth":1.5,"clip":true,"color":"#aaaaaa"},
 "encoding":{
  "x":{"field":"x","type":"quantitative","scale":{"domain":[0,1.6],"nice":false,"zero":false},
       "axis":{"orient":"top","values":[0,0.5,1,1.5],"tickSize":-9,"labels":false,"title":null}},
  "y":{"field":"y","type":"quantitative","scale":{"domain":[-0.5,0.5],"nice":false,"zero":false},
       "axis":{"orient":"right","values":[-0.4,-0.2,0,0.2,0.4],"tickSize":-9,"labels":false,"title":null}}}},
{"data":{"name":"d"},"transform":[{"filter":{"field":"s","oneOf":["gJr","gJz"]}}],
 "mark":{"type":"line","strokeWidth":1.5,"clip":true,"color":"#aaaaaa"},
 "encoding":{
  "x":{"field":"x","type":"quantitative","scale":{"domain":[0,1.6],"nice":false,"zero":false},
       "axis":{"orient":"top","values":[0.1,0.2,0.3,0.4,0.6,0.7,0.8,0.9,1.1,1.2,1.3,1.4],"tickSize":-5,"labels":false,"domain":false,"title":null}},
  "y":{"field":"y","type":"quantitative","scale":{"domain":[-0.5,0.5],"nice":false,"zero":false},
       "axis":{"orient":"right","values":[-0.3,-0.1,0.1,0.3],"tickSize":-5,"labels":false,"domain":false,"title":null}},
  "detail":{"field":"s","type":"nominal"}}}
],
"resolve":{"scale":{"x":"independent","y":"independent"}}
}
